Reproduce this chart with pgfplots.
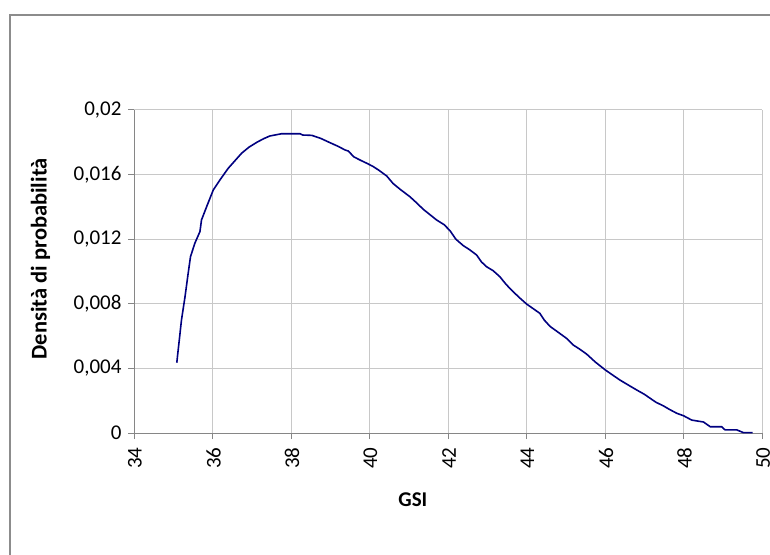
\documentclass[border=0pt]{standalone}
\usepackage{pgfplots}
\pgfplotsset{compat=1.18}
\usepackage{fontspec}
\setmainfont{Carlito}
\definecolor{curveblue}{RGB}{0,0,128}
\definecolor{gridgray}{RGB}{200,200,200}
\definecolor{axisgray}{RGB}{134,134,134}
\definecolor{framegray}{RGB}{140,140,140}
\begin{document}
\begin{tikzpicture}
\useasboundingbox (0pt,0pt) rectangle (770pt,554pt);
\begin{scope}
  \clip (0pt,0pt) rectangle (770pt,554pt);
  \draw[framegray, line width=1.6pt] (10pt,539pt) rectangle (800pt,-30pt);
\end{scope}
\begin{axis}[
  at={(134pt,121pt)}, anchor=south west,
  scale only axis, width=628pt, height=323pt,
  xmin=34, xmax=50, ymin=0, ymax=0.02,
  xtick={34,36,...,50},
  xticklabels={34,36,38,40,42,44,46,48,50},
  ytick={0,0.004,0.008,0.012,0.016,0.02},
  yticklabels={0,{0,004},{0,008},{0,012},{0,016},{0,02}},
  scaled y ticks=false,
  axis x line*=bottom, axis y line*=left,
  axis line style={axisgray, line width=1pt, -},
  grid=major,
  major grid style={gridgray, line width=1pt},
  tick align=outside, major tick length=6pt,
  tick style={axisgray, line width=1pt},
  font=\fontsize{21}{25}\selectfont,
  xticklabel style={rotate=90, anchor=east, xshift=-5pt, yshift=-1pt},
  yticklabel style={xshift=-3pt},
  xlabel={\bfseries GSI},
  ylabel={\fontsize{22.5}{26}\selectfont\bfseries Densità di probabilità},
  every axis x label/.style={at={(axis description cs:0.444,-0.205)}, anchor=center},
  every axis y label/.style={at={(axis description cs:-0.149,0.539)}, rotate=90, anchor=center},
]
\addplot[curveblue, line width=1.6pt, line join=round] table {
x y
35.09 0.00435
35.21 0.00700
35.30 0.00844
35.38 0.00989
35.44 0.01092
35.55 0.01175
35.68 0.01247
35.72 0.01319
35.85 0.01401
36.02 0.01505
36.19 0.01567
36.40 0.01639
36.55 0.01680
36.74 0.01732
36.93 0.01770
37.13 0.01800
37.30 0.01822
37.46 0.01839
37.76 0.01853
38.00 0.01853
38.23 0.01853
38.30 0.01845
38.53 0.01843
38.75 0.01825
38.99 0.01798
39.20 0.01775
39.38 0.01752
39.46 0.01746
39.60 0.01710
39.76 0.01690
39.95 0.01668
40.10 0.01649
40.25 0.01625
40.44 0.01591
40.60 0.01545
40.78 0.01509
41.03 0.01463
41.20 0.01425
41.37 0.01385
41.55 0.01350
41.71 0.01319
41.90 0.01290
42.05 0.01253
42.20 0.01200
42.39 0.01160
42.55 0.01135
42.73 0.01102
42.85 0.01060
42.98 0.01030
43.15 0.01005
43.32 0.00968
43.48 0.00920
43.66 0.00875
43.82 0.00838
44.00 0.00799
44.17 0.00770
44.34 0.00741
44.45 0.00700
44.60 0.00660
44.80 0.00625
45.02 0.00586
45.19 0.00545
45.35 0.00520
45.53 0.00489
45.75 0.00440
46.01 0.00390
46.20 0.00358
46.38 0.00328
46.60 0.00296
46.81 0.00266
47.00 0.00240
47.15 0.00215
47.30 0.00190
47.48 0.00169
47.65 0.00145
47.83 0.00122
48.00 0.00107
48.21 0.00080
48.51 0.00068
48.68 0.00039
48.97 0.00039
49.06 0.00019
49.36 0.00019
49.53 0.00002
49.76 0.00002
};
\end{axis}
\end{tikzpicture}
\end{document}
